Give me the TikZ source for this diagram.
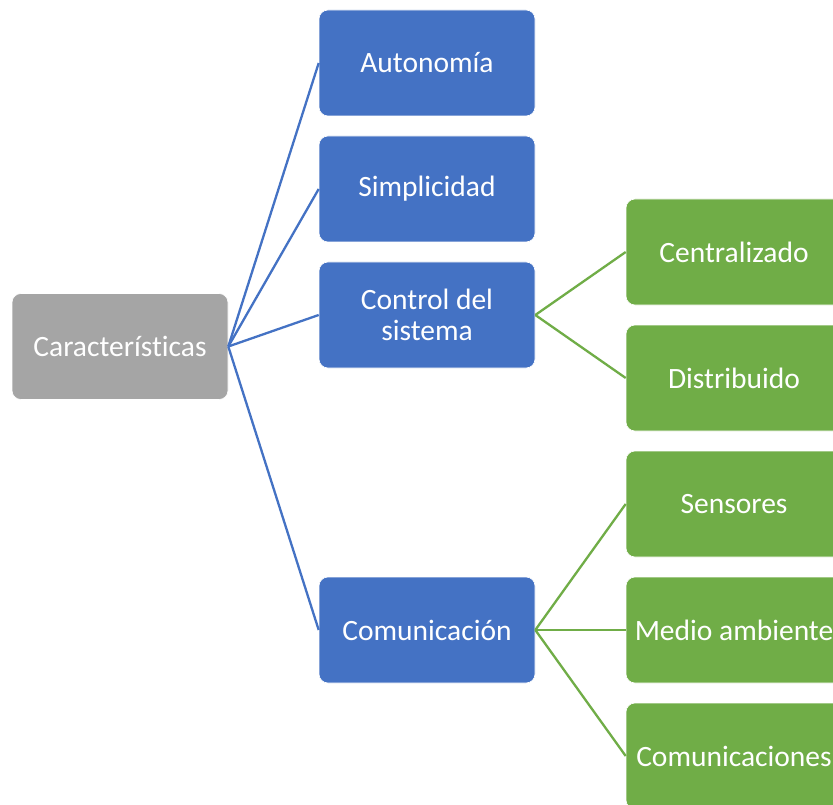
\documentclass[tikz,border=0pt]{standalone}
\usepackage{fontspec}
\setmainfont{Carlito}[Ligatures={NoCommon}]
\definecolor{rootgray}{HTML}{A5A5A5}
\definecolor{levelblue}{HTML}{4472C4}
\definecolor{leafgreen}{HTML}{70AD47}
\begin{document}
\begin{tikzpicture}[x=1pt,y=-1pt,
  box/.style={minimum width=216pt,minimum height=106pt,rounded corners=9pt,
    text=white,align=center,inner sep=0pt,draw=white,line width=0.6pt,
    font=\fontsize{29.5}{33}\selectfont},
  rootbox/.style={box,fill=rootgray},
  midbox/.style={box,fill=levelblue},
  leafbox/.style={box,fill=leafgreen},
  bluelink/.style={draw=levelblue,line width=2.3pt},
  greenlink/.style={draw=leafgreen,line width=2.3pt}]
\useasboundingbox (0,0) rectangle (833,805);
\clip (0,0) rectangle (833,805);
\fill[white] (0,0) rectangle (833,805);

% root of the tree
\node[rootbox] (root) at (120,346.5) {Características};

% first level
\node[midbox] (auto) at (427,63) {Autonomía};
\node[midbox] (simp) at (427,189) {Simplicidad};
\node[midbox] (ctrl) at (427,315) {Control del\\[-2pt]sistema};
\node[midbox] (comu) at (427,630) {Comunicación};

% second level
\node[leafbox] (cent) at (734,252) {Centralizado};
\node[leafbox] (dist) at (734,378) {Distribuido};
\node[leafbox] (sens) at (734,504) {Sensores};
\node[leafbox] (medi) at (734,630) {Medio ambiente};
\node[leafbox] (coms) at (734,756) {Comunicaciones};

% connectors
\foreach \t in {auto,simp,ctrl,comu}
  \draw[bluelink] (root.east) -- (\t.west);
\foreach \t in {cent,dist}
  \draw[greenlink] (ctrl.east) -- (\t.west);
\foreach \t in {sens,medi,coms}
  \draw[greenlink] (comu.east) -- (\t.west);
\end{tikzpicture}
\end{document}
